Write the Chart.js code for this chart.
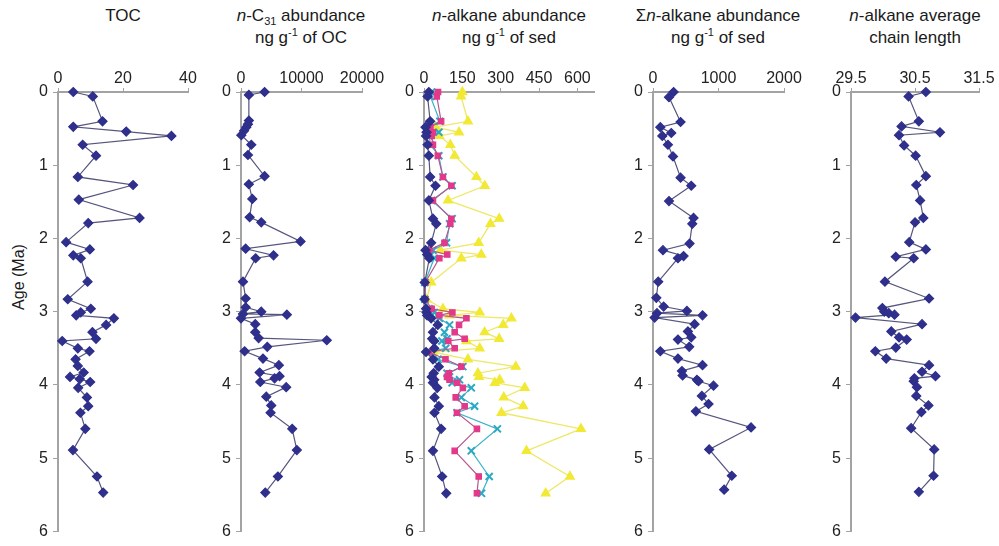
<!DOCTYPE html>
<html lang="en">
<head>
<meta charset="UTF-8">
<title>Sediment core profiles</title>
<script src="https://cdn.jsdelivr.net/npm/chart.js"></script>
<style>
  body { margin: 0; background: #fff; font-family: 'Liberation Sans', Arial, sans-serif; }
  #wrap { position: relative; width: 999px; height: 546px; overflow: hidden; }
  .panel { position: absolute; top: 0; height: 546px; }
  .title { position: absolute; top: 5px; font-size: 17px; line-height: 22px; text-align: center;
           color: #1a1a1a; white-space: nowrap; transform: translateX(-50%); }
  .title sub, .title sup { font-size: 11px; line-height: 0; }
  #ylab { position: absolute; left: 19px; top: 277px; transform: translate(-50%, -50%) rotate(-90deg);
          font-size: 16px; color: #1a1a1a; white-space: nowrap; }
</style>
</head>
<body>
<div id="wrap">
  <div class="title" style="left:123px">TOC</div>
  <div class="title" style="left:301px"><i>n</i>-C<sub>31</sub> abundance<br>ng g<sup>-1</sup> of OC</div>
  <div class="title" style="left:509px"><i>n</i>-alkane abundance<br>ng g<sup>-1</sup> of sed</div>
  <div class="title" style="left:718px">&Sigma;<i>n</i>-alkane abundance<br>ng g<sup>-1</sup> of sed</div>
  <div class="title" style="left:915px"><i>n</i>-alkane average<br>chain length</div>
  <div id="ylab">Age (Ma)</div>
</div>
<script>
// --- data (age in Ma) ---
const ageTicks = [0, 1, 2, 3, 4, 5, 6];

const tocAge = [0, 0.06, 0.40, 0.475, 0.54, 0.60, 0.72, 0.87, 1.16, 1.27, 1.47, 1.72, 1.79, 2.05, 2.15, 2.23, 2.27, 2.59, 2.83, 2.96,
                3.01, 3.05, 3.09, 3.18, 3.28, 3.37, 3.40, 3.50, 3.54, 3.65, 3.74, 3.83, 3.89, 3.92, 3.96, 4.04, 4.17, 4.29, 4.38, 4.60, 4.89, 5.25, 5.47];
const tocVal = [4.7, 10.7, 13.7, 4.7, 21, 34.9, 7.6, 11.7, 6.1, 23.1, 6.4, 25.1, 9.3, 2.5, 9.8, 4.7, 7.0, 9.1, 3.0, 10.1,
                7.0, 5.6, 17.2, 14.8, 10.6, 11.7, 1.3, 6.1, 9.7, 5.4, 6.1, 7.9, 3.7, 6.7, 9.9, 6.2, 8.9, 9.3, 6.9, 8.4, 4.6, 12.0, 13.9];
const tocTicks = [0, 20, 40];

const c31Age = [0, 0.04, 0.39, 0.44, 0.48, 0.53, 0.59, 0.72, 0.86, 1.15, 1.26, 1.46, 1.71, 1.78, 2.04, 2.14, 2.23, 2.27, 2.59, 2.82, 2.94,
                3.00, 3.03, 3.04, 3.09, 3.17, 3.28, 3.36, 3.39, 3.48, 3.54, 3.64, 3.73, 3.83, 3.88, 3.91, 3.96, 4.03, 4.16, 4.28, 4.38, 4.60, 4.89, 5.25, 5.47];
const c31Val = [3900, 1300, 1300, 1150, 880, 500, 50, 1700, 1150, 3900, 1300, 1870, 1430, 3350, 9840, 770, 5380, 2420, 330, 770, 770,
                3350, 330, 7580, 0, 2360, 2360, 2910, 14180, 4340, 600, 3630, 6260, 3080, 6370, 5550, 3190, 7470, 4180, 5000, 4890, 8460, 9230, 6100, 4010];
const c31Ticks = [0, 10000, 20000];

const alkAge = [0, 0.06, 0.40, 0.48, 0.55, 0.60, 0.72, 0.87, 1.16, 1.28, 1.48, 1.73, 1.80, 2.06, 2.16, 2.22, 2.27, 2.60, 2.83, 2.96,
                3.01, 3.05, 3.09, 3.18, 3.28, 3.37, 3.40, 3.50, 3.55, 3.65, 3.75, 3.84, 3.89, 3.93, 3.97, 4.04, 4.17, 4.29, 4.38, 4.60, 4.90, 5.25, 5.48];
const alkBlue = [19, 14, 24, 6, 10, 8, 14, 19, 24, 45, 19, 35, 48, 28, 6, 12, 21, 3, 2, 8,
                 10, 12, 28, 54, 35, 32, 40, 40, 8, 35, 58, 38, 30, 40, 35, 52, 41, 58, 41, 67, 35, 71, 87];
const alkMagenta = [55, 50, 67, 25, 35, 30, 35, 54, 74, 107, 35, 107, 103, 80, 20, 91, 60, 5, 5, 30,
                    111, 60, 166, 137, 120, 159, 95, 120, 20, 84, 146, 97, 90, 100, 130, 152, 124, 159, 129, 207, 120, 214, 207];
const alkCyan = [30, 25, 62, 15, 58, 20, 25, 58, 74, 110, 30, 110, 100, 88, 35, 28, 40, 3, 3, 20,
                 40, 30, 60, 100, 80, 90, 70, 85, 15, 55, 152, 90, 100, 139, 110, 185, 146, 198, 129, 287, 185, 255, 225];
const alkYellow = [150, 145, 172, 45, 137, 60, 103, 120, 205, 238, 94, 294, 260, 214, 64, 224, 146, 28, 10, 74,
                   218, 100, 342, 310, 237, 294, 166, 218, 35, 172, 359, 211, 215, 296, 277, 394, 312, 388, 303, 614, 401, 571, 476];
const alkTicks = [0, 150, 300, 450, 600];

const sumAge = [0, 0.07, 0.41, 0.48, 0.56, 0.60, 0.72, 0.88, 1.17, 1.28, 1.49, 1.72, 1.80, 2.07, 2.16, 2.24, 2.27, 2.59, 2.81, 2.93,
                2.99, 3.02, 3.05, 3.08, 3.17, 3.27, 3.35, 3.38, 3.48, 3.54, 3.64, 3.73, 3.81, 3.87, 3.93, 3.95, 4.01, 4.15, 4.26, 4.36, 4.58, 4.88, 5.24, 5.43];
const sumVal = [315, 244, 421, 112, 279, 142, 228, 305, 421, 584, 244, 619, 599, 558, 152, 467, 381, 80, 51, 162,
                518, 61, 756, 25, 635, 533, 584, 381, 553, 112, 381, 756, 442, 452, 670, 695, 924, 746, 848, 655, 1497, 858, 1203, 1086];
const sumTicks = [0, 1000, 2000];

const aclAge = [0, 0.06, 0.40, 0.47, 0.55, 0.59, 0.73, 0.87, 1.15, 1.27, 1.48, 1.72, 1.78, 2.05, 2.15, 2.25, 2.27, 2.59, 2.82, 2.95,
                3.00, 3.02, 3.04, 3.08, 3.17, 3.27, 3.35, 3.38, 3.49, 3.54, 3.64, 3.73, 3.82, 3.88, 3.91, 3.95, 4.03, 4.15, 4.28, 4.37, 4.59, 4.88, 5.24, 5.46];
const aclVal = [30.67, 30.40, 30.56, 30.29, 30.89, 30.25, 30.33, 30.51, 30.67, 30.52, 30.58, 30.63, 30.50, 30.41, 30.67, 30.20, 30.48, 30.03, 30.72, 29.99,
                30.02, 30.09, 30.18, 29.57, 30.61, 30.13, 30.25, 30.37, 30.20, 29.88, 30.05, 30.72, 30.61, 30.82, 30.49, 30.48, 30.53, 30.52, 30.71, 30.60, 30.44, 30.80, 30.79, 30.56];
const aclTicks = [29.5, 30.5, 31.5];

// --- layout ---
const PAD_L = 50, PAD_R = 34, TOP = 92, BOTTOM = 536, H = 546;
const FONT = "'Liberation Sans', Arial, sans-serif";
const AXIS = '#a3a3a3';

function pts(ages, vals) {
    return vals.map((v, i) => ({ x: v, y: ages[i] }));
}

function diamonds(ages, vals) {
    return {
        data: pts(ages, vals), showLine: true, clip: false,
        borderColor: '#55557e', borderWidth: 1.2,
        pointStyle: 'rectRot', pointRadius: 4.5,
        pointBackgroundColor: '#2f2f8c', pointBorderColor: '#2f2f8c'
    };
}

function panel(left, width, xMin, xMax, xTicks, datasets) {
    const div = document.createElement('div');
    div.className = 'panel';
    div.style.left = (left - PAD_L) + 'px';
    div.style.width = (PAD_L + width + PAD_R) + 'px';
    const cv = document.createElement('canvas');
    cv.width = PAD_L + width + PAD_R;
    cv.height = H;
    div.appendChild(cv);
    document.getElementById('wrap').appendChild(div);

    new Chart(cv, {
        type: 'scatter',
        data: { datasets },
        options: {
            responsive: false,
            animation: false,
            devicePixelRatio: 1,
            layout: { padding: { left: 0, right: PAD_R, top: 0, bottom: H - BOTTOM } },
            plugins: { legend: { display: false }, tooltip: { enabled: false } },
            scales: {
                x: {
                    type: 'linear', position: 'top', min: xMin, max: xMax,
                    afterFit: s => { s.height = TOP; },
                    afterBuildTicks: s => { s.ticks = xTicks.map(v => ({ value: v })); },
                    ticks: { callback: v => String(v), font: { size: 16, family: FONT }, color: '#222',
                             padding: 0, maxRotation: 0, autoSkip: false },
                    grid: { drawOnChartArea: false, tickLength: 4, color: AXIS },
                    border: { color: AXIS, width: 2 }
                },
                y: {
                    type: 'linear', reverse: true, min: 0, max: 6,
                    afterFit: s => { s.width = PAD_L; },
                    afterBuildTicks: s => { s.ticks = ageTicks.map(v => ({ value: v })); },
                    ticks: { font: { size: 16, family: FONT }, color: '#222', padding: 5 },
                    grid: { drawOnChartArea: false, tickLength: 5, color: AXIS },
                    border: { color: AXIS, width: 2 }
                }
            }
        }
    });
}

panel(58, 130, 0, 40, tocTicks, [diamonds(tocAge, tocVal)]);
panel(241, 121, 0, 20000, c31Ticks, [diamonds(c31Age, c31Val)]);
panel(424, 170, 0, 665, alkTicks, [
    diamonds(alkAge, alkBlue),
    { data: pts(alkAge, alkMagenta), showLine: true, clip: false,
      borderColor: '#b8588f', borderWidth: 1.2, pointStyle: 'rect', pointRadius: 3.8,
      pointBackgroundColor: '#e2398b', pointBorderColor: '#e2398b' },
    { data: pts(alkAge, alkCyan), showLine: true, clip: false,
      borderColor: '#3cb2c6', borderWidth: 1.2, pointStyle: 'crossRot', pointRadius: 5,
      pointBorderWidth: 2, pointBorderColor: '#2aa9c4' },
    { data: pts(alkAge, alkYellow), showLine: true, clip: false,
      borderColor: '#eee868', borderWidth: 1.3, pointStyle: 'triangle', pointRadius: 5,
      pointBackgroundColor: '#f2e934', pointBorderColor: '#f2e934' }
]);
panel(653, 131, 0, 2000, sumTicks, [diamonds(sumAge, sumVal)]);
panel(851, 128, 29.5, 31.5, aclTicks, [diamonds(aclAge, aclVal)]);
</script>
</body>
</html>
